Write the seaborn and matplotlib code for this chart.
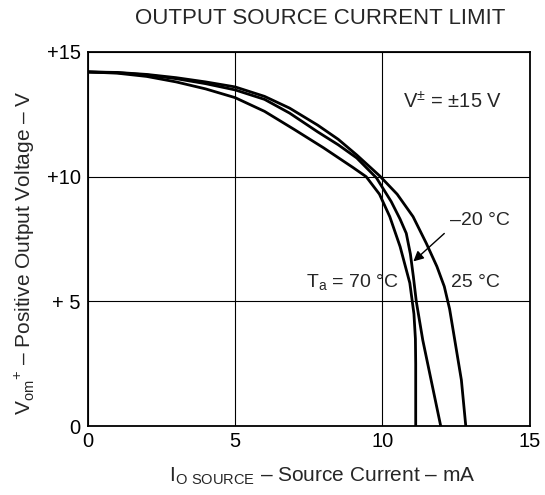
import matplotlib
matplotlib.use('Agg')
import matplotlib.pyplot as plt
import seaborn as sns
import pandas as pd

# Io source (mA) / Vom+ (V)
i_70 = [0, 1, 2, 3, 4, 5, 6, 7, 8, 9, 9.45, 9.9, 10.25, 10.6, 10.93, 11.07, 11.12, 11.13, 11.13]
v_70 = [14.2, 14.15, 14.02, 13.8, 13.52, 13.17, 12.62, 11.9, 11.16, 10.37, 10.0, 9.3, 8.4, 7.2, 5.74, 4.5, 3.5, 2.5, 0]

i_m20 = [0, 1, 2, 3, 4, 5, 6, 6.85, 7.8, 8.5, 9.13, 9.8, 10.3, 10.6, 10.81, 10.95, 11.05, 11.15, 11.37, 11.98]
v_m20 = [14.2, 14.17, 14.08, 13.93, 13.73, 13.48, 13.1, 12.55, 11.8, 11.28, 10.75, 9.95, 9.0, 8.3, 7.73, 6.9, 6.0, 5.0, 3.45, 0]

i_25 = [0, 1, 2, 3, 4, 5, 6, 6.85, 7.8, 8.5, 9.13, 9.91, 10.5, 11.04, 11.49, 11.85, 12.1, 12.28, 12.4, 12.68, 12.83]
v_25 = [14.2, 14.18, 14.1, 13.97, 13.8, 13.6, 13.22, 12.75, 12.07, 11.5, 10.87, 10.03, 9.3, 8.4, 7.33, 6.4, 5.6, 4.7, 3.85, 1.85, 0]

x_ticks = [0, 5, 10, 15]
x_tick_labels = ['0', '5', '10', '15']
y_ticks = [0, 5, 10, 15]
y_tick_labels = ['0', '+ 5', '+10', '+15']

sns.set_style('white')
plt.rcParams['font.family'] = ['Liberation Sans', 'DejaVu Sans']
plt.rcParams['mathtext.fontset'] = 'custom'
plt.rcParams['mathtext.rm'] = 'Liberation Sans'

fig = plt.figure(figsize=(5.45, 4.95), dpi=100)
ax = fig.add_axes([0.161, 0.139, 0.811, 0.756])

for xs, ys in [(i_70, v_70), (i_m20, v_m20), (i_25, v_25)]:
    df = pd.DataFrame({'i': xs, 'v': ys})
    sns.lineplot(data=df, x='i', y='v', ax=ax, color='black', linewidth=2.0,
                 sort=False, estimator=None)

ax.set_xlim(0, 15)
ax.set_ylim(0, 15)
ax.set_xticks(x_ticks)
ax.set_xticklabels(x_tick_labels)
ax.set_yticks(y_ticks)
ax.set_yticklabels(y_tick_labels)
ax.tick_params(length=0, labelsize=14.5, colors='black')
ax.tick_params(axis='x', pad=4)
ax.tick_params(axis='y', pad=5)
ax.grid(True, color='black', linewidth=0.8)
for s in ax.spines.values():
    s.set_color('black')
    s.set_linewidth(1.3)

ax.set_xlabel(r'I$_\mathregular{O\ SOURCE}$ – Source Current – mA', fontsize=15)
ax.set_ylabel(r'V$_\mathregular{om}$$^\mathregular{+}$ – Positive Output Voltage – V', fontsize=15)
ax.xaxis.set_label_coords(0.53, -0.105)
ax.yaxis.set_label_coords(-0.115, 0.465)
fig.text(0.587, 0.963, 'OUTPUT SOURCE CURRENT LIMIT', ha='center', va='center', fontsize=16)

ax.text(10.7, 13.0, r'V$^\mathregular{\pm}$ = ±15 V', fontsize=14.5, va='center')
ax.text(12.28, 8.26, '–20 °C', fontsize=14, va='center')
ax.text(12.34, 5.75, '25 °C', fontsize=14, va='center')
ax.text(7.41, 5.75, r'T$_\mathregular{a}$ = 70 °C', fontsize=14, va='center')
ax.annotate('', xy=(10.98, 6.53), xytext=(12.17, 7.8),
            arrowprops=dict(arrowstyle='-|>', color='black', lw=1.0, mutation_scale=15))

fig.savefig('out.png', dpi=100)
